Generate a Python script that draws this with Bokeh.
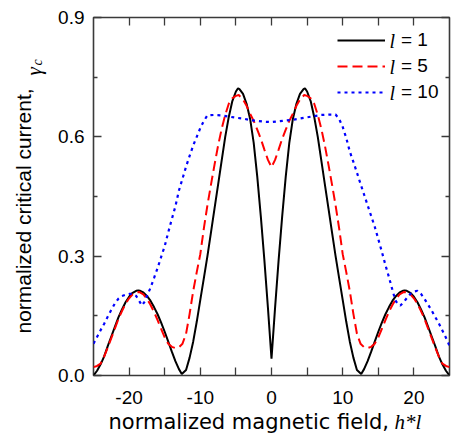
import numpy as np
from bokeh.plotting import figure
from bokeh.models import (Range1d, FixedTicker, LinearAxis, Legend, LegendItem,
                          Label, PrintfTickFormatter)
from bokeh.embed import file_html
from bokeh.resources import INLINE

# axis ticks
x_ticks = [-20, -10, 0, 10, 20]
x_minor = [-15, -5, 5, 15]
y_ticks = [0.0, 0.3, 0.6, 0.9]
y_minor = [0.15, 0.45, 0.75]

# l = 1 : normalized critical current vs normalized field
h_l1 = [-25, -24.5, -24, -23.5, -23, -22.5, -22, -21.5, -21, -20.5, -20, -19.5, -19,
        -18.7, -18.5, -18, -17.5, -17, -16.5, -16, -15.5, -15, -14.5, -14, -13.5, -13,
        -12.6, -12, -11.5, -11, -10.5, -10, -9.5, -9, -8.5, -8, -7.5, -7, -6.5, -6,
        -5.5, -5, -4.7, -4.5, -4, -3.5, -3, -2.5, -2, -1.5, -1, -0.5, 0,
        0.5, 1, 1.5, 2, 2.5, 3, 3.5, 4, 4.5, 4.7, 5, 5.5, 6, 6.5, 7, 7.5, 8, 8.5, 9,
        9.5, 10, 10.5, 11, 11.5, 12, 12.6, 13, 13.5, 14, 14.5, 15, 15.5, 16, 16.5, 17,
        17.5, 18, 18.5, 18.7, 19, 19.5, 20, 20.5, 21, 21.5, 22, 22.5, 23, 23.5, 24,
        24.5, 25]
ic_l1 = [0.000, 0.012, 0.028, 0.048, 0.074, 0.098, 0.122, 0.146, 0.166, 0.184, 0.198,
         0.208, 0.213, 0.214, 0.213, 0.209, 0.200, 0.188, 0.172, 0.154, 0.133, 0.110,
         0.085, 0.060, 0.036, 0.016, 0.004, 0.014, 0.045, 0.085, 0.135, 0.190, 0.245,
         0.300, 0.360, 0.420, 0.480, 0.540, 0.600, 0.650, 0.690, 0.714, 0.722, 0.720,
         0.708, 0.683, 0.645, 0.585, 0.500, 0.400, 0.290, 0.170, 0.042,
         0.170, 0.290, 0.400, 0.500, 0.585, 0.645, 0.683, 0.708, 0.720, 0.722, 0.714,
         0.690, 0.650, 0.600, 0.540, 0.480, 0.420, 0.360, 0.300, 0.245, 0.190, 0.135,
         0.085, 0.045, 0.014, 0.004, 0.016, 0.036, 0.060, 0.085, 0.110, 0.133, 0.154,
         0.172, 0.188, 0.200, 0.209, 0.213, 0.214, 0.213, 0.208, 0.198, 0.184, 0.166,
         0.146, 0.122, 0.098, 0.074, 0.048, 0.028, 0.012, 0.000]

# l = 5
h_l5 = [-25, -24.5, -24, -23.5, -23, -22.5, -22, -21.5, -21, -20.5, -20, -19.5, -19,
        -18.6, -18, -17.5, -17, -16.5, -16, -15.5, -15, -14.5, -14, -13.5, -13, -12.5,
        -12, -11.5, -11, -10.5, -10, -9.5, -9, -8.5, -8, -7.5, -7, -6.5, -6, -5.5, -5,
        -4.6, -4, -3.5, -3, -2.5, -2, -1.5, -1, -0.5, 0,
        0.5, 1, 1.5, 2, 2.5, 3, 3.5, 4, 4.6, 5, 5.5, 6, 6.5, 7, 7.5, 8, 8.5, 9, 9.5,
        10, 10.5, 11, 11.5, 12, 12.5, 13, 13.5, 14, 14.5, 15, 15.5, 16, 16.5, 17, 17.5,
        18, 18.6, 19, 19.5, 20, 20.5, 21, 21.5, 22, 22.5, 23, 23.5, 24, 24.5, 25]
ic_l5 = [0.021, 0.024, 0.030, 0.048, 0.070, 0.094, 0.118, 0.142, 0.162, 0.180, 0.194,
         0.204, 0.209, 0.210, 0.204, 0.193, 0.178, 0.160, 0.139, 0.117, 0.096, 0.080,
         0.072, 0.069, 0.071, 0.080, 0.105, 0.155, 0.212, 0.260, 0.305, 0.370, 0.428,
         0.480, 0.530, 0.578, 0.620, 0.655, 0.683, 0.697, 0.703, 0.705, 0.694, 0.678,
         0.658, 0.640, 0.618, 0.595, 0.568, 0.542, 0.524,
         0.542, 0.568, 0.595, 0.618, 0.640, 0.658, 0.678, 0.694, 0.705, 0.703, 0.697,
         0.683, 0.655, 0.620, 0.578, 0.530, 0.480, 0.428, 0.370, 0.305, 0.260, 0.212,
         0.155, 0.105, 0.080, 0.071, 0.069, 0.072, 0.080, 0.096, 0.117, 0.139, 0.160,
         0.178, 0.193, 0.204, 0.210, 0.209, 0.204, 0.194, 0.180, 0.162, 0.142, 0.118,
         0.094, 0.070, 0.048, 0.030, 0.024, 0.021]

# l = 10
h_l10 = [-25, -24.5, -24, -23.5, -23, -22.5, -22, -21.5, -21, -20.5, -20, -19.5, -19,
         -18.6, -18.2, -17.8, -17.5, -17, -16.5, -16, -15.5, -15, -14.5, -14, -13.5,
         -13, -12.5, -12, -11.5, -11, -10.5, -10, -9.5, -9, -8, -7, -6, -5, -4, -3, -2,
         -1, 0, 1, 2, 3, 4, 5, 6, 7, 8, 9, 9.5, 10, 10.5, 11, 11.5, 12, 12.5, 13, 13.5,
         14, 14.5, 15, 15.5, 16, 16.5, 17, 17.4, 17.8, 18.1, 18.6, 19.1, 19.5, 20, 20.5,
         21, 21.5, 22, 22.5, 23, 23.5, 24, 24.5, 25]
ic_l10 = [0.080, 0.097, 0.114, 0.130, 0.148, 0.165, 0.181, 0.193, 0.200, 0.203, 0.205,
          0.205, 0.200, 0.188, 0.176, 0.186, 0.200, 0.220, 0.245, 0.270, 0.298, 0.325,
          0.360, 0.393, 0.425, 0.465, 0.495, 0.525, 0.552, 0.578, 0.600, 0.622, 0.640,
          0.654, 0.655, 0.654, 0.651, 0.648, 0.646, 0.642, 0.640, 0.638, 0.637, 0.639,
          0.641, 0.643, 0.646, 0.649, 0.652, 0.655, 0.656, 0.656, 0.645, 0.625, 0.597,
          0.563, 0.537, 0.510, 0.482, 0.455, 0.428, 0.401, 0.374, 0.343, 0.311, 0.278,
          0.247, 0.214, 0.189, 0.178, 0.176, 0.185, 0.197, 0.205, 0.211, 0.213, 0.205,
          0.192, 0.178, 0.163, 0.147, 0.131, 0.113, 0.095, 0.075]

series_labels = ["= 1", "= 5", "= 10"]

FRAME_COLOR = "#3a3a3a"
SANS = "Liberation Sans"
SERIF = "Liberation Serif"

p = figure(width=451, height=438, output_backend="svg", toolbar_location=None,
           x_range=Range1d(-25, 25), y_range=Range1d(0, 0.9),
           min_border_left=93, min_border_right=2, min_border_top=17,
           min_border_bottom=63)
p.xgrid.visible = False
p.ygrid.visible = False
p.outline_line_color = FRAME_COLOR
p.outline_line_width = 1.6
p.background_fill_color = "white"
p.border_fill_color = "white"


def style_axis(ax, ticks, minor, show_labels, minor_len):
    ax.ticker = FixedTicker(ticks=ticks, minor_ticks=minor)
    ax.axis_line_color = None
    ax.major_tick_in = 8
    ax.major_tick_out = 0
    ax.minor_tick_in = minor_len
    ax.minor_tick_out = 0
    ax.major_tick_line_color = FRAME_COLOR
    ax.minor_tick_line_color = FRAME_COLOR
    ax.major_tick_line_width = 1.3
    ax.minor_tick_line_width = 1.3
    if show_labels:
        ax.major_label_text_font = SANS
        ax.major_label_text_font_size = "19px"
        ax.major_label_text_color = "black"
    else:
        ax.major_label_overrides = {t: "" for t in ticks}
        ax.major_label_standoff = 0


style_axis(p.xaxis[0], x_ticks, x_minor, True, 8)
style_axis(p.yaxis[0], y_ticks, y_minor, True, 4)
p.xaxis[0].formatter = PrintfTickFormatter(format="%d")
p.yaxis[0].formatter = PrintfTickFormatter(format="%.1f")
p.xaxis[0].major_label_standoff = 15
p.yaxis[0].major_label_standoff = 9

top = LinearAxis()
style_axis(top, x_ticks, x_minor, False, 8)
p.add_layout(top, "above")
right = LinearAxis()
style_axis(right, y_ticks, y_minor, False, 4)
p.add_layout(right, "right")

r1 = p.line(h_l1, ic_l1, line_color="black", line_width=2)
r5 = p.line(h_l5, ic_l5, line_color="#ff0000", line_width=2, line_dash="10 5")
r10 = p.line(h_l10, ic_l10, line_color="#0000ff", line_width=2.2, line_dash="3 4")

legend = Legend(items=[LegendItem(label=series_labels[0], renderers=[r1]),
                       LegendItem(label=series_labels[1], renderers=[r5]),
                       LegendItem(label=series_labels[2], renderers=[r10])],
                location=(244, 272), glyph_width=48, glyph_height=20,
                label_height=20, spacing=4, padding=0, margin=0,
                label_standoff=16, border_line_color=None,
                background_fill_alpha=0, label_text_font=SANS,
                label_text_font_size="19px", label_text_color="black")
p.add_layout(legend)


def text_label(x, y, text, font, size, italic=False, angle=0.0, baseline="alphabetic"):
    return Label(x=x, y=y, x_units="screen", y_units="screen", text=text,
                 text_font=font, text_font_size=size,
                 text_font_style="italic" if italic else "normal",
                 text_baseline=baseline, angle=angle, text_color="black")


# italic symbol in front of each legend entry
for vy in (335, 309, 283):
    p.add_layout(text_label(296, vy, "l", SERIF, "20px", italic=True, baseline="middle"))

# Title pieces live in the side panels (each panel only needs a little room);
# their offsets place them next to each other around the frame.
# x-axis title: upright words, then italic h*l
p.add_layout(text_label(15, 9, "normalized magnetic field,", "DejaVu Sans", "21px"),
             "below")
# y-axis title: upright words, then italic gamma with subscript c
p.add_layout(text_label(-9, 42, "normalized critical current,", SANS, "21px",
                        angle=np.pi / 2), "left")
p.add_layout(text_label(389, -46, "h*l", SERIF, "21px", italic=True), "left")
p.add_layout(text_label(-60, -58, "γ", SERIF, "21px", italic=True,
                        angle=np.pi / 2), "above")
p.add_layout(text_label(-56, -56, "c", SERIF, "14px", italic=True,
                        angle=np.pi / 2), "above")

open("out.html", "w").write(file_html(p, INLINE))
